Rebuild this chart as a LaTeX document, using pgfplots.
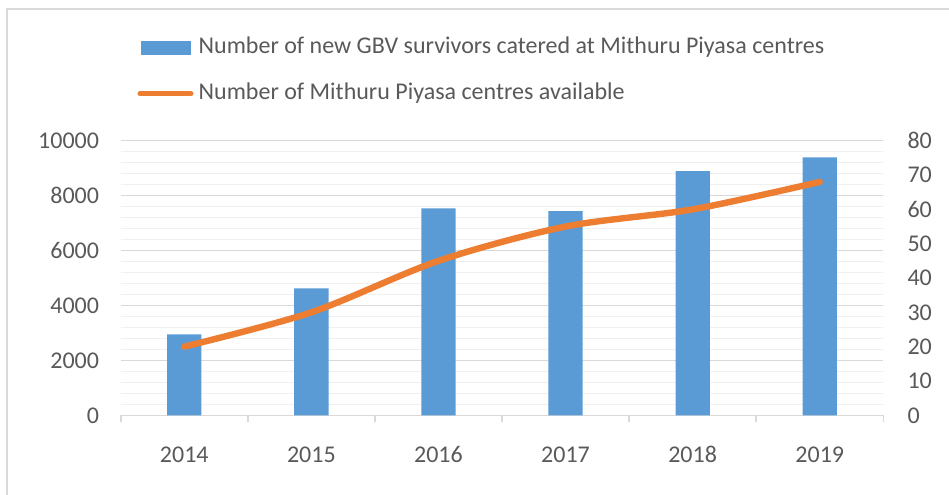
\documentclass[border=0pt]{standalone}
\usepackage{pgfplots}
\pgfplotsset{compat=1.18}
\usepackage{fontspec}
\setmainfont{Carlito}
\definecolor{barblue}{HTML}{5B9BD5}
\definecolor{lineorange}{HTML}{ED7D31}
\definecolor{txtgray}{HTML}{595959}
\definecolor{majgrid}{HTML}{D9D9D9}
\definecolor{mingrid}{HTML}{F0F0F0}
\begin{document}
\begin{tikzpicture}
\useasboundingbox (0pt,0pt) rectangle (474.5pt,247pt);
\draw[majgrid, line width=1pt] (3.5pt,-10pt) -- (3.5pt,242.5pt) -- (490pt,242.5pt);
\pgfplotsset{
  base/.style={
    at={(60.35pt,39.35pt)}, anchor=south west,
    scale only axis, width=381.3pt, height=137.3pt,
    xmin=-0.5, xmax=5.5,
    tick label style={font=\fontsize{12}{13}\selectfont, text=txtgray},
    /pgf/number format/assume math mode=true,
    /pgf/number format/1000 sep={},
    scaled y ticks=false,
    major tick length=0pt,
    ytick style={draw=none},
  }
}
\begin{axis}[base,
  ymin=0, ymax=10000,
  ytick={0,2000,4000,6000,8000,10000},
  minor y tick num=4,
  ymajorgrids, yminorgrids,
  major grid style={majgrid, line width=0.6pt},
  minor grid style={mingrid, line width=0.6pt},
  axis x line*=bottom,
  axis y line*=left,
  y axis line style={draw=none},
  x axis line style={majgrid, line width=0.8pt},
  xtick={0,1,2,3,4,5},
  xticklabels={2014,2015,2016,2017,2018,2019},
  minor xtick={-0.5,0.5,1.5,2.5,3.5,4.5,5.5},
  minor tick length=3.5pt,
  tick align=outside,
  xtick style={majgrid, line width=0.8pt},
  xticklabel style={anchor=base, yshift=-23.4pt},
  yticklabel style={anchor=east, xshift=-7.3pt},
  ybar, bar width=17.15pt,
]
\addplot[fill=barblue, draw=none] coordinates {(0,2950) (1,4625) (2,7540) (3,7440) (4,8890) (5,9395)};
\end{axis}
\begin{axis}[base,
  ymin=0, ymax=80,
  ytick={0,10,...,80},
  axis y line*=right,
  axis x line=none,
  y axis line style={draw=none},
  yticklabel style={anchor=west, xshift=8.6pt},
  legend style={at={(0.0215,1.377)}, anchor=north west, draw=none, fill=none,
    inner sep=0pt, row sep=12.3pt, column sep=2.6pt,
    font=\fontsize{12}{13}\selectfont, text=txtgray,
    nodes={inner sep=0pt, text height=8pt, text depth=2.5pt}},
  legend cell align=left,
]
\addlegendimage{legend image code/.code={\fill[barblue] (0.8pt,-3.35pt) rectangle (25.4pt,3.35pt);}}
\addlegendentry{Number of new GBV survivors catered at Mithuru Piyasa centres}
\addplot[lineorange, line width=3.2pt, line cap=round, smooth, no marks,
  legend image code/.code={\draw[lineorange, line width=2.4pt] (0pt,0pt) -- (25.6pt,0pt);}]
  coordinates {(0,20) (1,30) (2,45) (3,55) (4,60) (5,68)};
\addlegendentry{Number of Mithuru Piyasa centres available}
\end{axis}
\end{tikzpicture}
\end{document}
